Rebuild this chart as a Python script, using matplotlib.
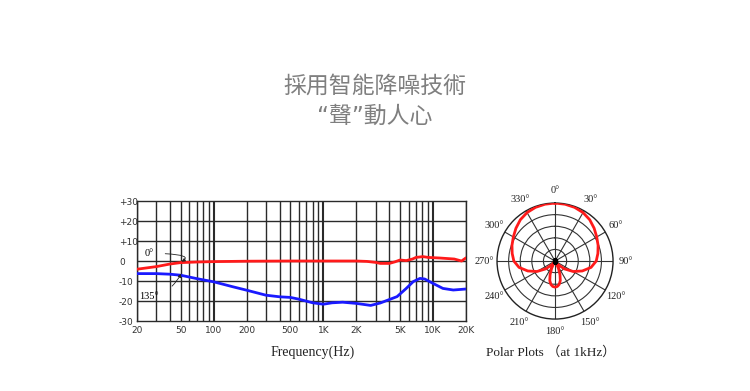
import numpy as np
import matplotlib
matplotlib.use("Agg")
import matplotlib.pyplot as plt

# frequency response
freq_0 = [20, 30, 40, 50, 70, 100, 200, 500, 1000, 2000, 2500, 3000, 3300,
          4000, 4500, 5000, 5700, 6500, 7000, 8100, 9000, 11500, 15600, 18200, 20000]
db_0 = [-4.1, -2.8, -1.5, -0.8, -0.5, -0.3, -0.1, 0, 0, 0, -0.2, -0.7, -1.2,
        -1.2, -0.4, 0.5, 0.2, 1.0, 1.8, 2.2, 1.8, 1.5, 1.0, 0.0, 1.6]

freq_135 = [20, 30, 40, 50, 70, 100, 150, 200, 300, 400, 500, 600, 800, 1000,
            1200, 1500, 2000, 2700, 3300, 4700, 5700, 6600, 7600, 8400, 10000,
            12300, 15300, 20000]
db_135 = [-6.3, -6.3, -6.6, -7.1, -8.8, -10.4, -12.9, -14.6, -17.1, -17.9, -18.2,
          -19.1, -20.9, -21.6, -20.9, -20.6, -21.2, -22.2, -21.0, -17.8, -13.7,
          -10.3, -8.7, -9.0, -11.2, -13.7, -14.5, -14.0]

x_ticks = [20, 50, 100, 200, 500, 1000, 2000, 5000, 10000, 20000]
x_labels = ["20", "50", "100", "200", "500", "1K", "2K", "5K", "10K", "20K"]
y_ticks = [30, 20, 10, 0, -10, -20, -30]
y_labels = ["+30", "+20", "+10", "0", "-10", "-20", "-30"]

# polar pattern at 1kHz, 0..180 deg (mirrored for the other half)
polar_deg = [0, 10, 20, 30, 40, 50, 60, 70, 80, 90, 100, 110, 120, 130, 140,
             145, 150, 155, 160, 165, 170, 175, 180]
polar_r = [1.0, 0.995, 0.985, 0.965, 0.93, 0.88, 0.83, 0.79, 0.75, 0.71, 0.63,
           0.50, 0.36, 0.21, 0.08, 0.03, 0.04, 0.14, 0.25, 0.35, 0.41, 0.44, 0.45]

red = "#ff1a1a"
blue = "#1a1aff"
grid_c = "#2a2a2a"
cjk = ["DejaVu Sans", "Noto Sans CJK TC"]
serif = "Liberation Serif"

fig = plt.figure(figsize=(7.5, 3.91), dpi=100)

# title
fig.text(0.5, 0.78, "採用智能降噪技術", ha="center", va="center", fontsize=16.5,
         color="#7f7f7f", family=cjk, weight="medium")
fig.text(0.5, 0.703, "“聲”動人心", ha="center", va="center", fontsize=16.5,
         color="#7f7f7f", family=cjk, weight="medium")

# frequency response plot
ax = fig.add_axes([0.1827, 0.179, 0.4387, 0.3069])
ax.set_xscale("log")
ax.set_xlim(20, 20000)
ax.set_ylim(-30, 30)

minor = np.concatenate([np.arange(20, 100, 10), np.arange(100, 1000, 100),
                        np.arange(1000, 10000, 1000), [10000, 20000]])
for f in minor:
    lw = 1.5 if f in (100, 1000, 10000) else 1.0
    ax.axvline(f, color=grid_c, lw=lw, zorder=1)
for y in [-20, -10, 0, 10, 20]:
    ax.axhline(y, color=grid_c, lw=1.0, zorder=1)

ax.plot(freq_0, db_0, color=red, lw=2.0, zorder=3, solid_capstyle="round")
ax.plot(freq_135, db_135, color=blue, lw=2.0, zorder=3, solid_capstyle="round")

ax.set_xticks(x_ticks)
ax.set_xticklabels(x_labels)
ax.xaxis.set_minor_locator(plt.NullLocator())
ax.set_yticks(y_ticks)
ax.set_yticklabels(y_labels)
ax.tick_params(axis="both", length=0, labelsize=6.5, colors="#333333")
ax.tick_params(axis="y", pad=13)
for lab in ax.get_yticklabels():
    lab.set_horizontalalignment("left")
for s in ax.spines.values():
    s.set_color(grid_c)
    s.set_linewidth(1.0)

ax.annotate("0°", xy=(51, -0.3), xytext=(26, 3.8), fontsize=7.5, family=serif,
            ha="center", va="center", zorder=4,
            arrowprops=dict(arrowstyle="-|>", color="#222222", lw=0.6,
                            mutation_scale=5, shrinkA=6, shrinkB=0,
                            connectionstyle="angle3,angleA=0,angleB=30"))
ax.annotate("135°", xy=(50.6, -6.4), xytext=(25.9, -17.6), fontsize=7.5, family=serif,
            ha="center", va="center", zorder=4,
            arrowprops=dict(arrowstyle="-|>", color="#222222", lw=0.6,
                            mutation_scale=5, shrinkA=9, shrinkB=0,
                            connectionstyle="angle3,angleA=0,angleB=60"))

fig.text(0.417, 0.098, "Frequency(Hz)", ha="center", va="center", fontsize=10,
         family=serif, color="#222222")

# polar plot
pax = fig.add_axes([0.6627, 0.184, 0.1547, 0.2967], projection="polar")
pax.set_theta_zero_location("N")
pax.set_theta_direction(-1)
deg_full = polar_deg + [360 - d for d in polar_deg[::-1]]
r_full = polar_r + polar_r[::-1]
pax.plot(np.radians(deg_full), r_full, color=red, lw=2.0, zorder=3)
pax.plot([0], [0], "s", color="black", ms=2.5, zorder=4)
pax.set_ylim(0, 1.0)
pax.set_rticks([0.2, 0.4, 0.6, 0.8])
pax.set_yticklabels([])
ang = list(range(0, 360, 30))
pax.set_thetagrids(ang, [f"{a}°" for a in ang], family=serif, fontsize=7.5)
pax.tick_params(axis="x", pad=-1.5, colors="#222222")
pax.grid(color="#333333", lw=0.8)
pax.spines["polar"].set_color("#222222")
pax.spines["polar"].set_linewidth(1.0)

fig.text(0.735, 0.098, "Polar Plots （at 1kHz）", ha="center", va="center",
         fontsize=9.5, family=[serif, "Noto Sans CJK TC"], color="#222222")

fig.savefig("out.png", dpi=100)
